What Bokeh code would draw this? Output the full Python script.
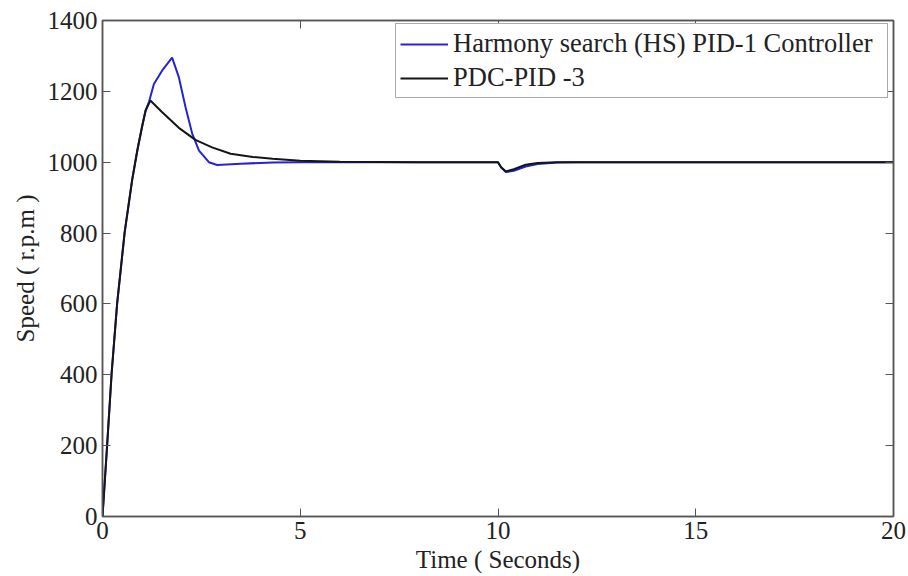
from bokeh.plotting import figure
from bokeh.models import LinearAxis, FixedTicker, Legend, LegendItem, Range1d
from bokeh.embed import file_html
from bokeh.resources import INLINE

# Harmony search (HS) PID-1 Controller
t_hs = [0, 0.12, 0.23, 0.37, 0.56, 0.75, 0.88, 1.0, 1.09, 1.18, 1.30, 1.51, 1.76,
        1.93, 2.10, 2.27, 2.44, 2.69, 2.9, 3.5, 4.3, 5.0, 8.0,
        10.0, 10.08, 10.2, 10.4, 10.7, 11.0, 11.5, 12.0, 20.0]
v_hs = [0, 206, 403, 601, 802, 950, 1033, 1100, 1146, 1172, 1221, 1259, 1295,
        1240, 1155, 1080, 1033, 1000, 992, 996, 999, 1000, 1000,
        1000, 985, 972, 976, 988, 995, 999, 1000, 1000]

# PDC-PID -3
t_pdc = [0, 0.12, 0.23, 0.37, 0.56, 0.75, 0.88, 1.0, 1.09, 1.21, 1.51, 1.93, 2.35,
         2.77, 3.24, 3.8, 4.3, 5.0, 6.0, 8.0,
         10.0, 10.08, 10.2, 10.4, 10.7, 11.0, 11.5, 20.0]
v_pdc = [0, 206, 403, 601, 802, 950, 1033, 1100, 1146, 1174, 1141, 1097, 1063,
         1042, 1024, 1015, 1010, 1004, 1001, 1000,
         1000, 986, 974, 980, 993, 998, 1000, 1000]

x_ticks = [0, 5, 10, 15, 20]
y_ticks = [0, 200, 400, 600, 800, 1000, 1200, 1400]

FONT = "Liberation Serif"
AX_COL = "#555555"
TXT_COL = "#222222"

p = figure(frame_width=791, frame_height=496, output_backend="svg",
           toolbar_location=None, x_range=Range1d(0, 20), y_range=Range1d(0, 1400),
           min_border_left=102, min_border_right=13, min_border_top=20, min_border_bottom=58,
           x_axis_label="Time ( Seconds)", y_axis_label="Speed ( r.p.m )")
p.grid.visible = False
p.outline_line_color = AX_COL
p.outline_line_width = 1.5
p.background_fill_color = "white"
p.border_fill_color = "white"

r_hs = p.line(t_hs, v_hs, line_color="#2323d8", line_width=2)
r_pdc = p.line(t_pdc, v_pdc, line_color="#151515", line_width=2)

def style_axis(ax):
    ax.axis_line_color = AX_COL
    ax.axis_line_width = 1.5
    ax.major_tick_line_color = AX_COL
    ax.major_tick_in = 8
    ax.major_tick_out = 0
    ax.minor_tick_line_color = None
    ax.major_label_text_font = FONT
    ax.major_label_text_font_size = "25px"
    ax.major_label_text_color = TXT_COL
    ax.axis_label_text_font = FONT
    ax.axis_label_text_font_size = "25px"
    ax.axis_label_text_font_style = "normal"
    ax.axis_label_text_color = TXT_COL

for ax in p.xaxis:
    ax.ticker = FixedTicker(ticks=x_ticks)
    style_axis(ax)
    ax.major_label_standoff = 5
    ax.axis_label_standoff = 4
for ax in p.yaxis:
    ax.ticker = FixedTicker(ticks=y_ticks)
    style_axis(ax)
    ax.major_label_standoff = 5
    ax.axis_label_standoff = 6

top = LinearAxis(ticker=FixedTicker(ticks=x_ticks))
style_axis(top)
top.major_label_overrides = {t: "" for t in x_ticks}
top.major_label_standoff = 0
p.add_layout(top, "above")
right = LinearAxis(ticker=FixedTicker(ticks=y_ticks))
style_axis(right)
right.major_label_overrides = {t: "" for t in y_ticks}
right.major_label_standoff = 0
p.add_layout(right, "right")

legend = Legend(items=[LegendItem(label="Harmony search (HS) PID-1 Controller", renderers=[r_hs]),
                       LegendItem(label="PDC-PID -3", renderers=[r_pdc])],
                location=(293, 418))
legend.label_text_font = FONT
legend.label_text_font_size = "26.5px"
legend.label_text_color = TXT_COL
legend.glyph_width = 48
legend.label_standoff = 5
legend.padding = 4
legend.spacing = 3
legend.label_height = 30
legend.glyph_height = 30
legend.label_width = 430
legend.border_line_color = AX_COL
legend.border_line_width = 1.5
legend.margin = 0
legend.background_fill_alpha = 1
p.add_layout(legend, "center")

open("out.html", "w").write(file_html(p, INLINE))
